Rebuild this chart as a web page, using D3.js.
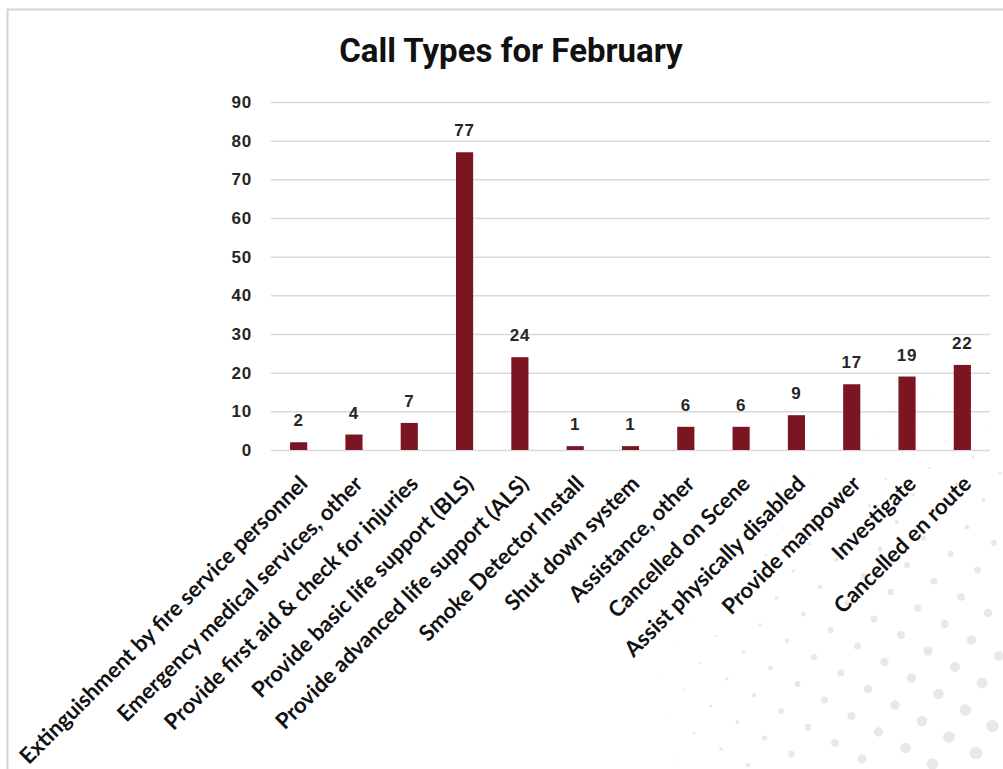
<!DOCTYPE html>
<html>
<head>
<meta charset="utf-8">
<script src="https://cdn.jsdelivr.net/npm/d3@7"></script>
<style>
  body { margin: 0; background: #fff; }
  svg { display: block; }
</style>
</head>
<body>
<div id="chart"></div>
<script>
// call types and counts for February
var categories = [
  "Extinguishment by fire service personnel",
  "Emergency medical services, other",
  "Provide first aid & check for injuries",
  "Provide basic life support (BLS)",
  "Provide advanced life support (ALS)",
  "Smoke Detector Install",
  "Shut down system",
  "Assistance, other",
  "Cancelled on Scene",
  "Assist physically disabled",
  "Provide manpower",
  "Investigate",
  "Cancelled en route"
];
var counts = [2, 4, 7, 77, 24, 1, 1, 6, 6, 9, 17, 19, 22];
var yTicks = [0, 10, 20, 30, 40, 50, 60, 70, 80, 90];

var W = 1003, H = 769;
var margin = {top: 102, left: 271, right: 13, bottom: 319};

var svg = d3.select('#chart').append('svg')
  .attr('width', W)
  .attr('height', H);

// faint dot pattern in the lower right corner
var dots = [];
d3.range(-16, 17).forEach(function(i) {
  d3.range(-16, 17).forEach(function(j) {
    var x = 1003 + i * 27 - j * 16.5,
      y = 769 + i * 16 + j * 27;
    var d = Math.hypot(1003 - x, 769 - y);
    if (x > 0 && x < W && y > 0 && y < H && d < 380 && d > 0) {
      dots.push({x: x, y: y, r: Math.max(0.5, 7 - d / 55)});
    }
  });
});
svg.append('g').selectAll('circle')
  .data(dots)
  .enter().append('circle')
  .attr('cx', function(d) { return d.x; })
  .attr('cy', function(d) { return d.y; })
  .attr('r', function(d) { return d.r; })
  .attr('fill', '#e8e8e8');

// frame
svg.append('rect')
  .attr('x', 7.5).attr('y', 9.5)
  .attr('width', W + 10).attr('height', H + 10)
  .attr('fill', 'none')
  .attr('stroke', '#d4d4d4')
  .attr('stroke-width', 2);

svg.append('text')
  .attr('x', 511)
  .attr('y', 62)
  .attr('text-anchor', 'middle')
  .style('font-family', 'Roboto, sans-serif')
  .style('font-weight', 700)
  .style('font-size', '33px')
  .attr('fill', '#111')
  .text('Call Types for February');

var x = d3.scaleBand()
  .domain(categories)
  .range([margin.left, W - margin.right])
  .paddingInner(0.69)
  .paddingOuter(0.345);

var y = d3.scaleLinear()
  .domain([0, 90])
  .range([H - margin.bottom, margin.top]);

// gridlines and y labels
var yAxis = svg.append('g')
  .attr('transform', 'translate(' + margin.left + ',0)')
  .call(d3.axisLeft(y).tickValues(yTicks)
    .tickSize(-(W - margin.right - margin.left))
    .tickPadding(19));
yAxis.select('.domain').remove();
yAxis.selectAll('line')
  .attr('stroke', '#d9d9d9')
  .attr('stroke-width', 1.5);
yAxis.selectAll('text')
  .style('font-family', 'Liberation Sans, Arial, sans-serif')
  .style('font-weight', 700)
  .style('font-size', '17px')
  .style('letter-spacing', '0.8px')
  .attr('fill', '#262626');

// bars
svg.append('g').selectAll('rect')
  .data(counts)
  .enter().append('rect')
  .attr('x', function(d, i) { return x(categories[i]); })
  .attr('y', function(d) { return y(d); })
  .attr('width', x.bandwidth())
  .attr('height', function(d) { return y(0) - y(d); })
  .attr('fill', '#7b1522');

// value labels
svg.append('g').selectAll('text')
  .data(counts)
  .enter().append('text')
  .attr('x', function(d, i) { return x(categories[i]) + x.bandwidth() / 2; })
  .attr('y', function(d) { return y(d) - 16; })
  .attr('text-anchor', 'middle')
  .style('font-family', 'Liberation Sans, Arial, sans-serif')
  .style('font-weight', 700)
  .style('font-size', '17px')
  .style('letter-spacing', '0.8px')
  .attr('fill', '#262626')
  .text(function(d) { return d; });

// rotated category labels
svg.append('g').selectAll('text')
  .data(categories)
  .enter().append('text')
  .attr('transform', function(d) {
    var cx = x(d) + x.bandwidth() / 2;
    return 'translate(' + (cx - 1) + ',474) rotate(-45)';
  })
  .attr('text-anchor', 'end')
  .attr('dy', '0.72em')
  .style('font-family', 'Lato, sans-serif')
  .style('font-weight', 700)
  .style('font-size', '22px')
  .attr('fill', '#111')
  .text(function(d) { return d; });
</script>
</body>
</html>
